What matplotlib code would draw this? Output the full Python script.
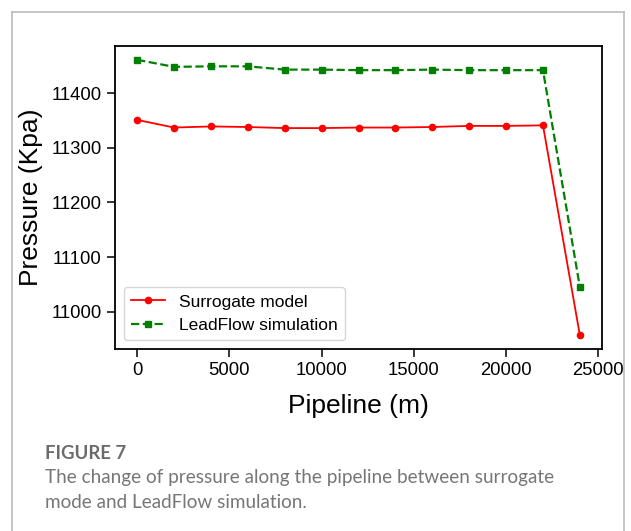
import numpy as np
import matplotlib
matplotlib.use("Agg")
import matplotlib.pyplot as plt

# Datos
pipeline_m = [0, 2000, 4000, 6000, 8000, 10000, 12000, 14000, 16000, 18000, 20000, 22000, 24000]
surrogate = [11351, 11337, 11339, 11338, 11336, 11336, 11337, 11337, 11338, 11340, 11340, 11341, 10957]
leadflow = [11461, 11448, 11449, 11449, 11443, 11443, 11442, 11442, 11443, 11442, 11442, 11442, 11045]

caption_title = "FIGURE 7"
caption_lines = ["The change of pressure along the pipeline between surrogate",
                 "mode and LeadFlow simulation."]

plt.rcParams["font.family"] = ["Liberation Sans", "DejaVu Sans"]

fig = plt.figure(figsize=(6.31, 5.31), dpi=100)
W, H = 631, 531

# marco gris de la tarjeta
for xs, ys in [([12, 12], [531, 12]), ([624, 624], [531, 12]), ([12, 624], [12, 12])]:
    fig.add_artist(plt.Line2D([x / W for x in xs], [1 - y / H for y in ys],
                              color="#bbbbbb", lw=1.2, transform=fig.transFigure))

ax = fig.add_axes([115 / W, 1 - 349 / H, (602 - 115) / W, (349 - 46) / H])
ax.plot(pipeline_m, surrogate, color="red", marker="o", ms=4.5, lw=1.3,
        label="Surrogate model")
ax.plot(pipeline_m, leadflow, color="green", marker="s", ms=4, lw=1.6, ls="--",
        label="LeadFlow simulation")

ax.set_xticks([0, 5000, 10000, 15000, 20000, 25000])
ax.set_yticks([11000, 11100, 11200, 11300, 11400])
ax.tick_params(labelsize=13.3, length=6, width=1.1)
for s in ax.spines.values():
    s.set_linewidth(1.3)
ax.set_xlabel("Pipeline (m)", fontsize=19, labelpad=11)
ax.set_ylabel("Pressure (Kpa)", fontsize=19, labelpad=6)
ax.legend(loc="lower left", fontsize=12.5)

# pie de figura
fig.text(45 / W, 1 - 459 / H, caption_title, family="Lato", weight="bold",
         fontsize=13.3, color="#6b6b6b", va="baseline")
for i, linea in enumerate(caption_lines):
    fig.text(45 / W, 1 - (483 + 25 * i) / H, linea, family="Lato",
             fontsize=13.6, color="#767676", va="baseline")

plt.savefig("out.png", dpi=100)
